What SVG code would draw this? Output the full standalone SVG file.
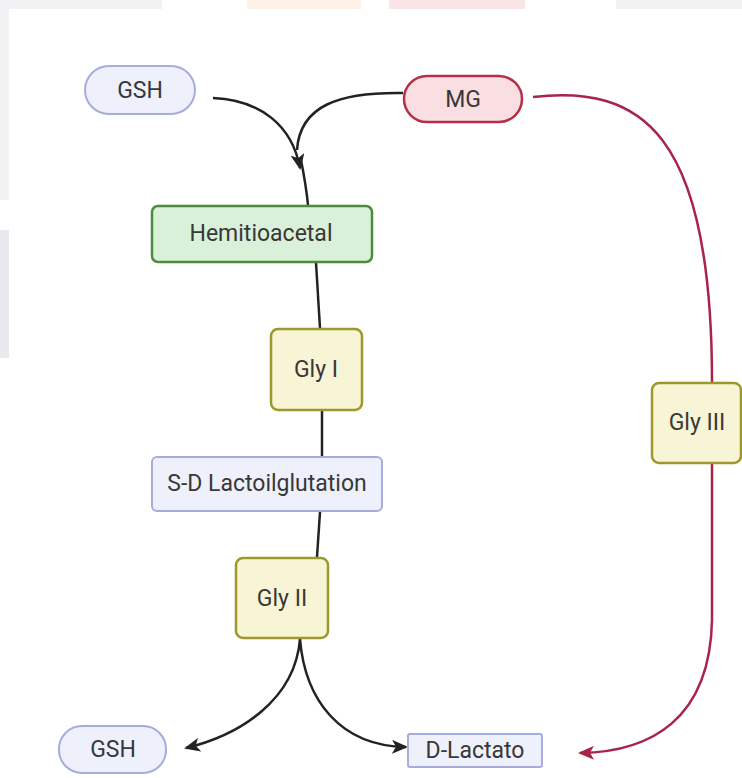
<svg xmlns="http://www.w3.org/2000/svg" width="742" height="778" viewBox="0 0 742 778">
<defs>
<style>
text{font-family:Roboto,"Liberation Sans",sans-serif;font-size:23px;fill:#383838;text-anchor:middle;dominant-baseline:central}
.blue{fill:#eef0fb;stroke:#a6acdc;stroke-width:2}
.red{fill:#f9dfe1;stroke:#b42f4a;stroke-width:2.5}
.green{fill:#d9f1d9;stroke:#4c8c3c;stroke-width:2.5}
.gly{fill:#f8f4d6;stroke:#9c982a;stroke-width:2.5}
.k{fill:none;stroke:#222;stroke-width:2.5}
.r{fill:none;stroke:#a82448;stroke-width:2.5}
</style>
<marker id="ak" viewBox="0 0 16 14" refX="14" refY="7" markerWidth="16" markerHeight="14" markerUnits="userSpaceOnUse" orient="auto"><path d="M0,0 L16,7 L0,14 L4,7 Z" fill="#222"/></marker>
<marker id="ar" viewBox="0 0 16 14" refX="14" refY="7" markerWidth="16" markerHeight="14" markerUnits="userSpaceOnUse" orient="auto"><path d="M0,0 L16,7 L0,14 L4,7 Z" fill="#a82448"/></marker>
</defs>
<rect width="742" height="778" fill="#fff"/>
<g id="background">
<rect x="0" y="0" width="162" height="9" fill="#f2f2f5"/>
<rect x="247" y="0" width="114" height="9" fill="#fdf1e5"/>
<rect x="389" y="0" width="136" height="9" fill="#f9e4e6"/>
<rect x="616" y="0" width="126" height="9" fill="#f2f2f5"/>
<rect x="0" y="0" width="9" height="200" fill="#f2f2f5"/>
<rect x="0" y="230" width="9" height="128" fill="#e8e8ee"/>
</g>
<g id="connectors">
<path class="k" d="M213,98 C260,100 292,125 300,168" marker-end="url(#ak)"/>
<path class="k" d="M403,93 C340,92 300,105 297,150"/>
<path class="k" d="M301,160 C305,180 307,195 308,205"/>
<path class="k" d="M316,263 L320,328"/>
<path class="k" d="M322,410 L322,457"/>
<path class="k" d="M320,512 L317,557"/>
<path class="k" d="M300,639 C295,700 240,735 186,748" marker-end="url(#ak)"/>
<path class="k" d="M300,639 C305,700 340,746 406,747" marker-end="url(#ak)"/>
<path class="r" d="M533,97 C640,85 712,130 712,382"/>
<path class="r" d="M712,464 L712,620 C710,720 650,752 580,753" marker-end="url(#ar)"/>
</g>
<g id="gsh-top"><rect class="blue" x="85" y="66" width="110" height="48" rx="24"/><text x="140" y="90">GSH</text></g>
<g id="mg"><rect class="red" x="404" y="76" width="118" height="46" rx="23"/><text x="463" y="99">MG</text></g>
<g id="hemitioacetal"><rect class="green" x="152" y="206" width="220" height="56" rx="6"/><text x="261" y="233">Hemitioacetal</text></g>
<g id="gly1"><rect class="gly" x="271" y="329" width="91" height="81" rx="7"/><text x="316" y="369">Gly I</text></g>
<g id="sdl"><rect class="blue" x="152" y="457" width="230" height="54" rx="5"/><text x="267" y="483">S-D Lactoilglutation</text></g>
<g id="gly2"><rect class="gly" x="236" y="558" width="92" height="80" rx="7"/><text x="282" y="598">Gly II</text></g>
<g id="gly3"><rect class="gly" x="652" y="383" width="89" height="80" rx="7"/><text x="697" y="422">Gly III</text></g>
<g id="gsh-bottom"><rect class="blue" x="59" y="726" width="107" height="47" rx="23"/><text x="113" y="749">GSH</text></g>
<g id="dlactato"><rect class="blue" x="408" y="734" width="134" height="33" rx="2"/><text x="475" y="750">D-Lactato</text></g>
</svg>
